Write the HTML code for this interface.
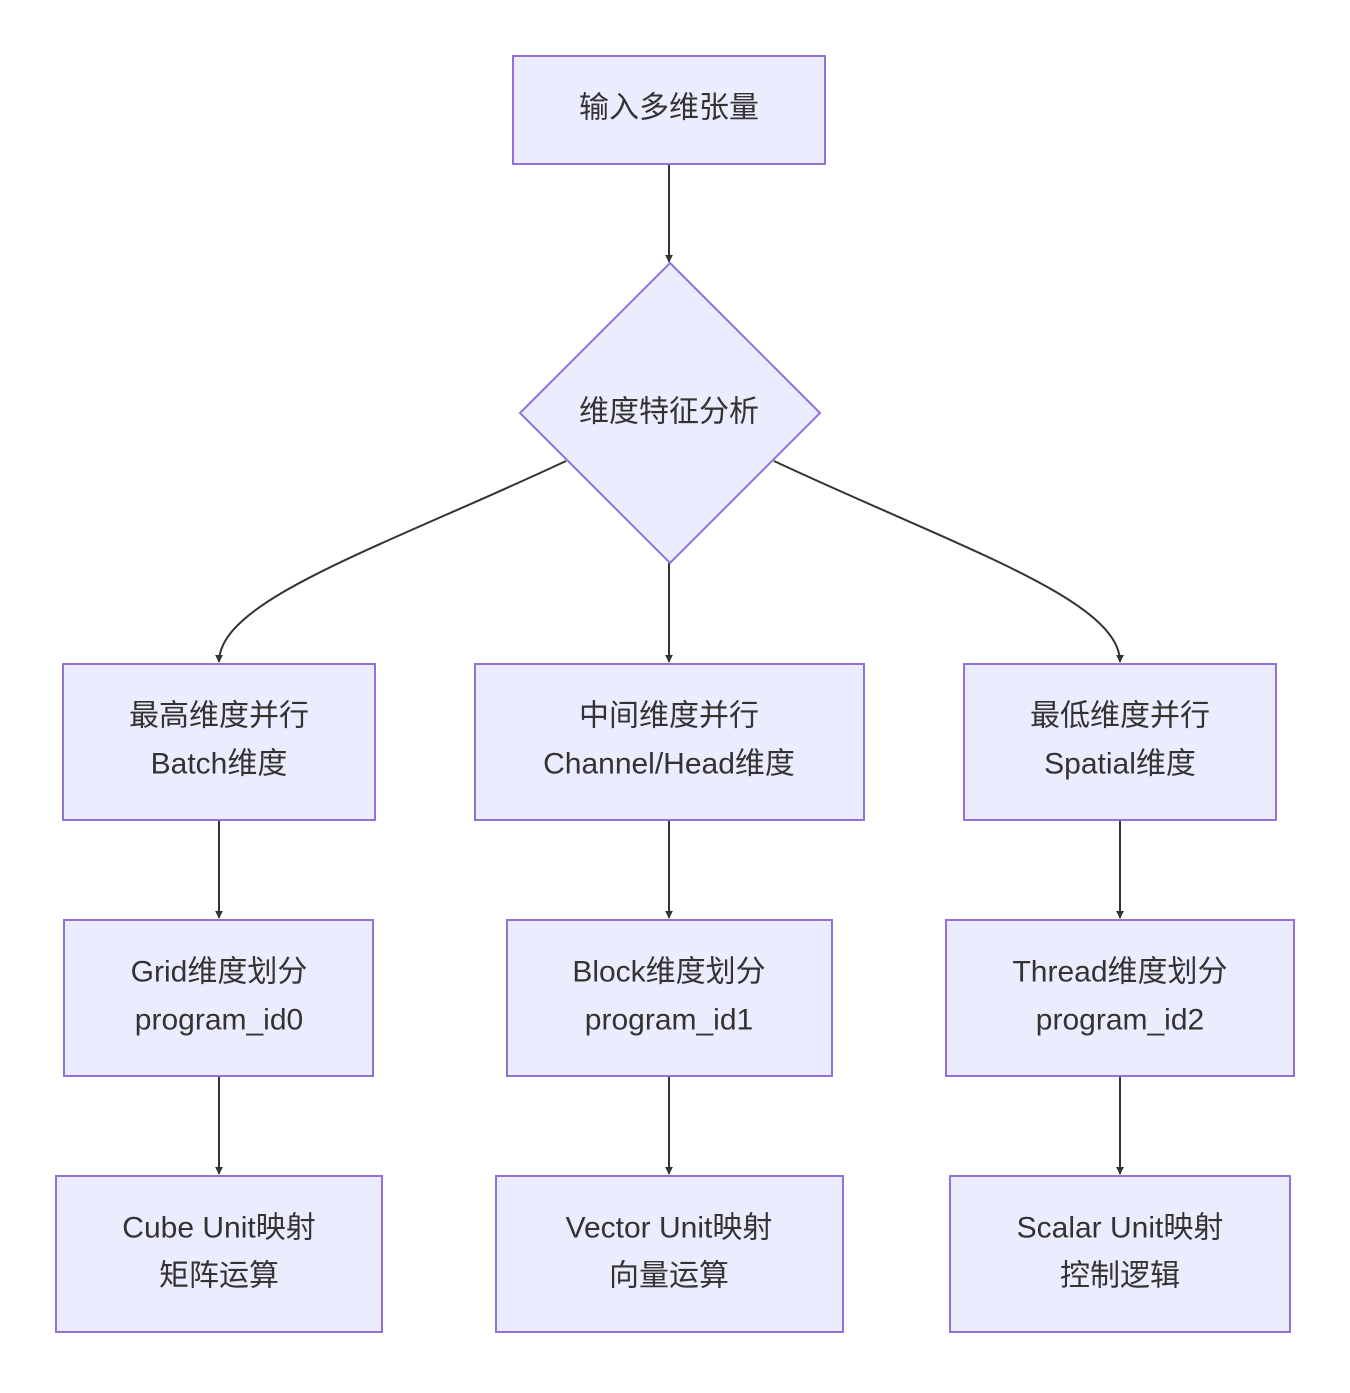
<!DOCTYPE html>
<html><head><meta charset="utf-8"><style>
html,body{margin:0;padding:0;background:#fff;}
svg text{font-family:"Liberation Sans","Noto Sans CJK SC",sans-serif;font-size:30px;fill:#333;text-anchor:middle;dominant-baseline:central;}
</style></head><body>
<svg width="1350" height="1388" viewBox="0 0 1350 1388" xmlns="http://www.w3.org/2000/svg">
<defs><marker id="a" viewBox="0 0 10 10" refX="9" refY="5" markerWidth="8" markerHeight="8" markerUnits="userSpaceOnUse" orient="auto"><path d="M0,0L10,5L0,10z" fill="#333"/></marker></defs>
<g stroke="#333" stroke-width="2" fill="none">
<path d="M669,164L669,262" marker-end="url(#a)" transform=""/>
<path d="M566,461C380,548 219,600 219,662" marker-end="url(#a)"/>
<path d="M669,563L669,662" marker-end="url(#a)"/>
<path d="M774,461C960,548 1120,600 1120,662" marker-end="url(#a)"/>
<path d="M219,820L219,918" marker-end="url(#a)"/>
<path d="M669,820L669,918" marker-end="url(#a)"/>
<path d="M1120,820L1120,918" marker-end="url(#a)"/>
<path d="M219,1076L219,1174" marker-end="url(#a)"/>
<path d="M669,1076L669,1174" marker-end="url(#a)"/>
<path d="M1120,1076L1120,1174" marker-end="url(#a)"/>
</g>
<g fill="#ECECFF" stroke="#9370DB" stroke-width="2">
<rect x="513" y="56" width="312" height="108"/>
<path d="M670,263L820,413L670,563L520,413Z"/>
<rect x="63" y="664" width="312" height="156"/>
<rect x="475" y="664" width="389" height="156"/>
<rect x="964" y="664" width="312" height="156"/>
<rect x="64" y="920" width="309" height="156"/>
<rect x="507" y="920" width="325" height="156"/>
<rect x="946" y="920" width="348" height="156"/>
<rect x="56" y="1176" width="326" height="156"/>
<rect x="496" y="1176" width="347" height="156"/>
<rect x="950" y="1176" width="340" height="156"/>
</g>
<text x="669" y="108">输入多维张量</text>
<text x="669" y="412">维度特征分析</text>
<text x="219" y="716">最高维度并行</text><text x="219" y="764">Batch维度</text>
<text x="669" y="716">中间维度并行</text><text x="669" y="764">Channel/Head维度</text>
<text x="1120" y="716">最低维度并行</text><text x="1120" y="764">Spatial维度</text>
<text x="219" y="972">Grid维度划分</text><text x="219" y="1020">program_id0</text>
<text x="669" y="972">Block维度划分</text><text x="669" y="1020">program_id1</text>
<text x="1120" y="972">Thread维度划分</text><text x="1120" y="1020">program_id2</text>
<text x="219" y="1228">Cube Unit映射</text><text x="219" y="1276">矩阵运算</text>
<text x="669" y="1228">Vector Unit映射</text><text x="669" y="1276">向量运算</text>
<text x="1120" y="1228">Scalar Unit映射</text><text x="1120" y="1276">控制逻辑</text>
</svg>
</body></html>
